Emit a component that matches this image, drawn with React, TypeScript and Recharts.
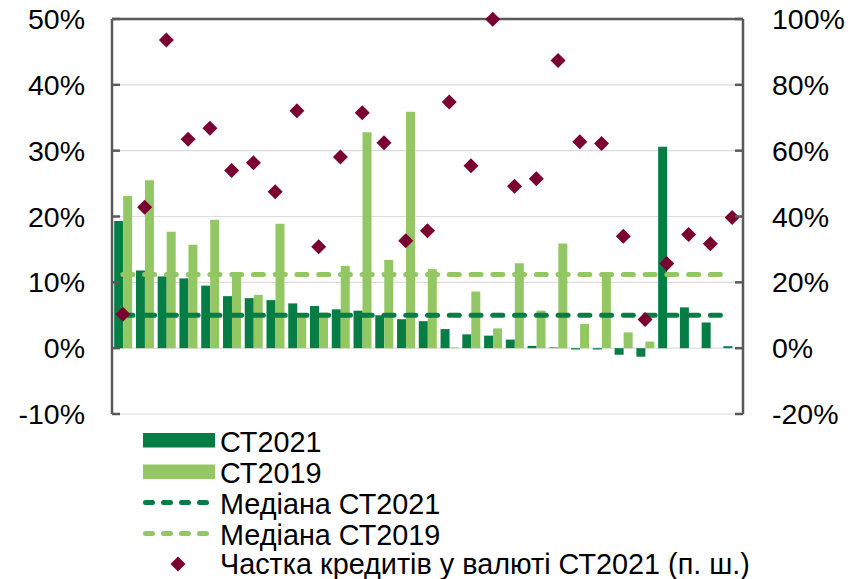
import React from 'react';
import {
  ComposedChart,
  Bar,
  Line,
  Scatter,
  XAxis,
  YAxis,
  CartesianGrid,
  ReferenceLine,
} from 'recharts';

const categories = ['1','2','3','4','5','6','7','8','9','10','11','12','13','14','15','16','17','18','19','20','21','22','23','24','25','26','27','28','29'];
const ct2021 = [19.3, 11.8, 10.9, 10.6, 9.5, 7.9, 7.6, 7.3, 6.8, 6.4, 5.9, 5.7, 5.0, 4.4, 4.1, 2.9, 2.1, 1.9, 1.3, 0.35, 0.1, -0.2, -0.2, -1.0, -1.3, 30.6, 6.2, 3.9, 0.3];
const ct2019 = [23.1, 25.5, 17.7, 15.7, 19.5, 11.0, 8.1, 18.9, 5.0, 5.4, 12.5, 32.8, 13.4, 35.9, 12.0, 0.1, 8.6, 3.0, 12.9, 5.7, 15.9, 3.7, 11.0, 2.4, 1.0, 0, 0, 0, 0];
const fxShare2021 = [10.3, 42.8, 93.6, 63.5, 66.8, 54.0, 56.3, 47.5, 72.1, 30.8, 58.1, 71.5, 62.4, 32.6, 35.7, 74.8, 55.4, 99.9, 49.2, 51.5, 87.4, 62.7, 62.2, 34.0, 8.7, 25.7, 34.5, 31.7, 39.7];
const median2021 = 5.0;
const median2019 = 11.2;
const leftTicks = [-10, 0, 10, 20, 30, 40, 50];
const rightTicks = [-20, 0, 20, 40, 60, 80, 100];

const DARK = '#077D46';
const LIGHT = '#93C763';
const MAROON = '#7A0032';
const AXIS = '#595959';
const GRID = '#DCDCDC';
const FONT = '"Liberation Sans", Arial, sans-serif';

const data = categories.map((c, i) => ({
  name: c,
  ct2021: ct2021[i],
  ct2019: ct2019[i],
  fx: fxShare2021[i],
  med2021: median2021,
  med2019: median2019,
}));

const LeftTick = (props: any) => {
  const { x, y, payload } = props;
  return (
    <g>
      <line x1={x + 27} x2={x + 35} y1={y} y2={y} stroke={AXIS} strokeWidth={2.5} />
      <text x={x} y={y} dy="0.355em" textAnchor="end" fontSize={28.5} fontFamily={FONT} fill="#000">
        {`${payload.value}%`}
      </text>
    </g>
  );
};

const RightTick = (props: any) => {
  const { x, y, payload } = props;
  return (
    <g>
      <line x1={x - 29} x2={x - 37} y1={y} y2={y} stroke={AXIS} strokeWidth={2.5} />
      <text x={x} y={y} dy="0.355em" textAnchor="start" fontSize={28.5} fontFamily={FONT} fill="#000">
        {`${payload.value}%`}
      </text>
    </g>
  );
};

const Diamond = (props: any) => {
  const { cx, cy } = props;
  if (cx == null || cy == null) return null;
  const r = 7.5;
  return (
    <path
      d={`M${cx},${cy - r}L${cx + r},${cy}L${cx},${cy + r}L${cx - r},${cy}Z`}
      fill={MAROON}
    />
  );
};

const Legend = () => {
  const tx = 220;
  const t = (y: number, s: string) => (
    <text x={tx} y={y} dy="0.355em" fontSize={28.8} fontFamily={FONT} fill="#000">{s}</text>
  );
  return (
    <svg width={860} height={579} style={{ position: 'absolute', left: 0, top: 0, pointerEvents: 'none' }}>
      <rect x={143} y={433} width={72} height={14.5} fill={DARK} />
      {t(441.5, 'СТ2021')}
      <rect x={143} y={464.5} width={72} height={14.5} fill={LIGHT} />
      {t(472.5, 'СТ2019')}
      <line x1={145.5} x2={212} y1={502.5} y2={502.5} stroke={DARK} strokeWidth={5} strokeDasharray="7 11" strokeLinecap="round" />
      {t(503.5, 'Медіана СТ2021')}
      <line x1={145.5} x2={212} y1={533.5} y2={533.5} stroke={LIGHT} strokeWidth={5} strokeDasharray="7 11" strokeLinecap="round" />
      {t(534.5, 'Медіана СТ2019')}
      <path d="M178,556.5L185.5,564L178,571.5L170.5,564Z" fill={MAROON} />
      {t(564, 'Частка кредитів у валюті СТ2021 (п. ш.)')}
    </svg>
  );
};

export default function App() {
  return (
    <div style={{ position: 'absolute', left: 0, top: 0, width: 860, height: 579, background: '#fff' }}>
      <ComposedChart
        width={860}
        height={579}
        data={data}
        margin={{ top: 19, right: 0, bottom: 165, left: 0 }}
        barCategoryGap="10%"
        barGap={0}
      >
        <CartesianGrid horizontal vertical={false} stroke={GRID} strokeWidth={1.2} yAxisId="left" />
        <XAxis dataKey="name" height={0} tick={false} tickLine={false} axisLine={{ stroke: AXIS, strokeWidth: 2.5 }} />
        <YAxis
          yAxisId="left"
          orientation="left"
          width={112}
          domain={[-10, 50]}
          ticks={leftTicks}
          interval={0}
          tickSize={0}
          tickMargin={27}
          tickLine={false}
          axisLine={{ stroke: AXIS, strokeWidth: 2.5 }}
          tick={<LeftTick />}
        />
        <YAxis
          yAxisId="right"
          orientation="right"
          width={117}
          domain={[-20, 100]}
          ticks={rightTicks}
          interval={0}
          tickSize={0}
          tickMargin={29}
          tickLine={false}
          axisLine={{ stroke: AXIS, strokeWidth: 2.5 }}
          tick={<RightTick />}
        />
        <ReferenceLine yAxisId="left" y={50} stroke={AXIS} strokeWidth={2.5} />
        <Bar yAxisId="left" dataKey="ct2021" fill={DARK} isAnimationActive={false} />
        <Bar yAxisId="left" dataKey="ct2019" fill={LIGHT} isAnimationActive={false} />
        <Line
          yAxisId="left"
          dataKey="med2021"
          stroke={DARK}
          strokeWidth={5}
          strokeDasharray="10 11.76"
          strokeLinecap="round"
          dot={false}
          activeDot={false}
          isAnimationActive={false}
        />
        <Line
          yAxisId="left"
          dataKey="med2019"
          stroke={LIGHT}
          strokeWidth={5}
          strokeDasharray="10 11.76"
          strokeLinecap="round"
          dot={false}
          activeDot={false}
          isAnimationActive={false}
        />
        <Scatter yAxisId="right" dataKey="fx" fill={MAROON} shape={<Diamond />} isAnimationActive={false} />
      </ComposedChart>
      <Legend />
    </div>
  );
}
